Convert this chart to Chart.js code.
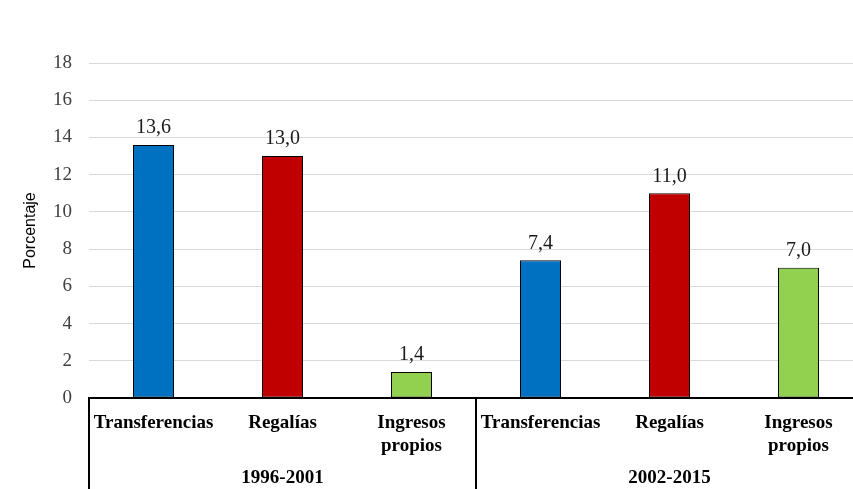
<!DOCTYPE html>
<html>
<head>
<meta charset="utf-8">
<script src="https://cdn.jsdelivr.net/npm/chart.js@4.4.1/dist/chart.umd.min.js"></script>
<style>
    html, body { margin: 0; padding: 0; background: #ffffff; overflow: hidden; }
    #wrap { width: 853px; height: 489px; overflow: hidden; }
</style>
</head>
<body>
<div id="wrap"><canvas id="barChart" width="870" height="489"></canvas></div>
<script>
const categories = [
    ["Transferencias"], ["Regalías"], ["Ingresos", "propios"],
    ["Transferencias"], ["Regalías"], ["Ingresos", "propios"],
];
const groups = ["1996-2001", "2002-2015"];
const values = [13.6, 13.0, 1.4, 7.4, 11.0, 7.0];
const barColors = ["#0070C0", "#C00000", "#92D050", "#0070C0", "#C00000", "#92D050"];
const yTicks = [0, 2, 4, 6, 8, 10, 12, 14, 16, 18];

const serif = "'Liberation Serif', 'DejaVu Serif', serif";

// numbers above the bars, decimal comma
const valueLabels = {
    id: "valueLabels",
    afterDatasetsDraw(chart) {
        const ctx = chart.ctx;
        const meta = chart.getDatasetMeta(0);
        ctx.save();
        ctx.font = "20px " + serif;
        ctx.fillStyle = "#1a1a1a";
        ctx.textAlign = "center";
        ctx.textBaseline = "bottom";
        meta.data.forEach(function (bar, i) {
            ctx.fillText(values[i].toFixed(1).replace(".", ","), bar.x, bar.y - 7);
        });
        ctx.restore();
    },
};

// second level of the category axis: group names and separators
const groupAxis = {
    id: "groupAxis",
    afterDraw(chart) {
        const ctx = chart.ctx;
        const x = chart.scales.x;
        const area = chart.chartArea;
        const bottom = chart.height;
        const per = categories.length / groups.length;
        const step = x.getPixelForValue(1) - x.getPixelForValue(0);
        ctx.save();
        ctx.strokeStyle = "#000000";
        ctx.lineWidth = 2;
        for (let g = 0; g <= groups.length; g++) {
            const px = Math.round(x.getPixelForValue(g * per) - step / 2);
            ctx.beginPath();
            ctx.moveTo(px, area.bottom);
            ctx.lineTo(px, bottom);
            ctx.stroke();
        }
        ctx.font = "bold 19px " + serif;
        ctx.fillStyle = "#000000";
        ctx.textAlign = "center";
        ctx.textBaseline = "middle";
        groups.forEach(function (label, g) {
            const cx = (x.getPixelForValue(g * per) + x.getPixelForValue(g * per + per - 1)) / 2;
            ctx.fillText(label, cx, 478);
        });
        ctx.restore();
    },
};

new Chart(document.getElementById("barChart"), {
    type: "bar",
    data: {
        labels: categories,
        datasets: [
            {
                data: values,
                backgroundColor: barColors,
                borderColor: "#000000",
                borderWidth: 1,
                borderSkipped: false,
                barPercentage: 0.318,
                categoryPercentage: 1,
            },
        ],
    },
    options: {
        responsive: false,
        animation: false,
        layout: {
            padding: { top: 63, right: 7, left: 0, bottom: 0 },
        },
        plugins: {
            legend: { display: false },
            tooltip: { enabled: false },
        },
        scales: {
            x: {
                grid: { display: false },
                border: { color: "#000000", width: 2 },
                ticks: {
                    color: "#000000",
                    font: { family: serif, size: 19, weight: "bold" },
                    padding: 6,
                    maxRotation: 0,
                    autoSkip: false,
                },
                afterFit(scale) {
                    scale.height = 91;
                },
            },
            y: {
                min: 0,
                max: 18,
                afterBuildTicks(scale) {
                    scale.ticks = yTicks.map(function (v) { return { value: v }; });
                },
                afterFit(scale) {
                    scale.width = 89;
                },
                grid: { color: "#d9d9d9", drawTicks: false },
                border: { display: false },
                ticks: {
                    color: "#404040",
                    font: { family: serif, size: 19 },
                    padding: 17,
                },
                title: {
                    display: true,
                    text: "Porcentaje",
                    color: "#000000",
                    font: { family: "'Liberation Sans', 'Open Sans', sans-serif", size: 16 },
                    padding: { top: 21, bottom: 0 },
                },
            },
        },
    },
    plugins: [valueLabels, groupAxis],
});
</script>
</body>
</html>
